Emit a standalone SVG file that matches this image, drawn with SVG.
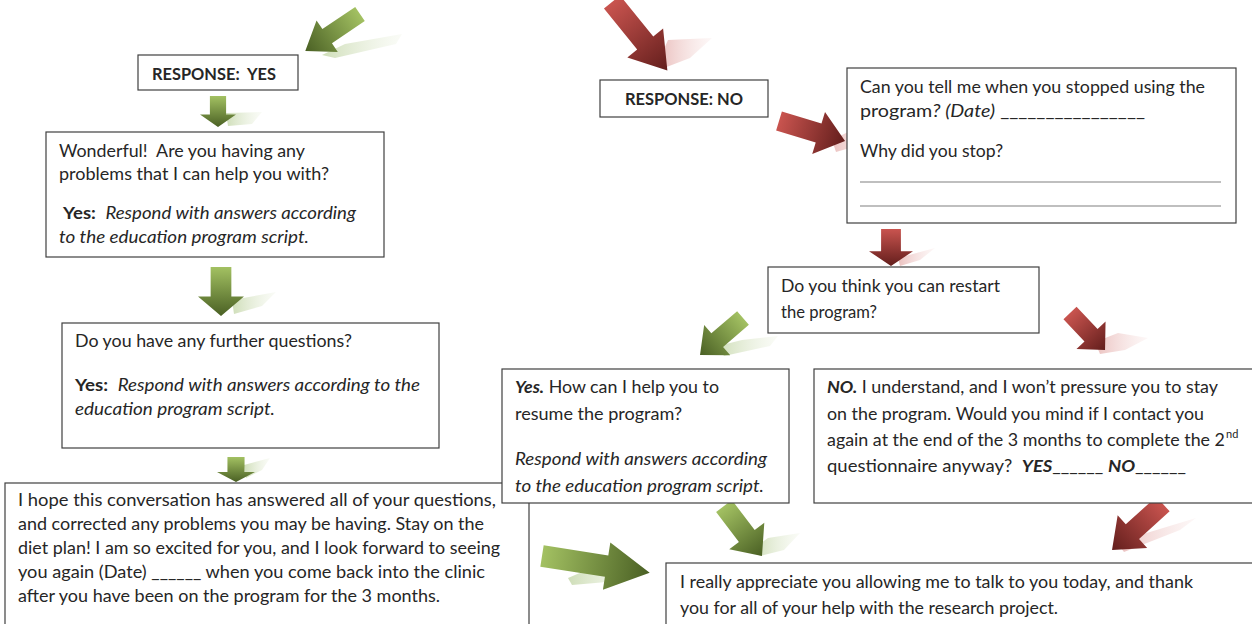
<svg xmlns="http://www.w3.org/2000/svg" width="1252" height="624" viewBox="0 0 1252 624">
<style>
.box{fill:#fff;stroke:#404040;stroke-width:1.2}
.t{font-family:Lato,"Liberation Sans",sans-serif;font-size:17.5px;fill:#262626;white-space:pre}
.b{font-weight:bold}
.i{font-style:italic}
.ln{stroke:#808080;stroke-width:1.2}
.gA{fill:url(#gGreen)}
.rA{fill:url(#gRed)}
.gS{fill:url(#gGreenS)}
.rS{fill:url(#gRedS)}
</style>
<defs>
<linearGradient id="gGreen" x1="0" y1="0" x2="1" y2="0">
<stop offset="0" stop-color="#a3c162"/><stop offset="1" stop-color="#4a6024"/>
</linearGradient>
<linearGradient id="gRed" x1="0" y1="0" x2="1" y2="0">
<stop offset="0" stop-color="#c9544f"/><stop offset="1" stop-color="#631e1c"/>
</linearGradient>
<linearGradient id="gGreenS" x1="0" y1="0" x2="1" y2="0">
<stop offset="0" stop-color="#c9dab0" stop-opacity="0.9"/><stop offset="1" stop-color="#eef3e4" stop-opacity="0.3"/>
</linearGradient>
<linearGradient id="gRedS" x1="0" y1="0" x2="1" y2="0">
<stop offset="0" stop-color="#e8b9b7" stop-opacity="0.9"/><stop offset="1" stop-color="#f8e6e5" stop-opacity="0.3"/>
</linearGradient>
<path id="arr" d="M0,-9 L60,-9 L60,-20 L100,0 L60,20 L60,9 L0,9 Z"/>
</defs>

<g id="connectors">
<polygon class="gS" points="322,55 345,44 402,34 396,44 335,58"/>
<polygon class="gS" points="226,113 262,112 252,124 228,126"/>
<polygon class="gS" points="232,300 276,292 262,306 234,314"/>
<polygon class="gS" points="244,465 270,458 262,470 246,478"/>
<polygon class="rS" points="660,58 668,40 712,38 690,58 664,68"/>
<polygon class="rS" points="832,140 848,132 880,130 860,145 836,152"/>
<polygon class="rS" points="898,258 935,248 920,260 900,266"/>
<polygon class="rS" points="1095,342 1118,333 1148,338 1125,350 1100,354"/>
<polygon class="gS" points="718,346 742,340 778,336 770,346 724,356"/>
<polygon class="gS" points="754,548 768,538 800,533 784,550 760,556"/>
<polygon class="gS" points="568,578 596,566 644,568 630,580 572,585"/>
<polygon class="rS" points="1118,544 1140,535 1196,518 1180,530 1124,552"/>
<use href="#arr" class="gA" transform="translate(360,14) rotate(146) scale(0.66,0.95)"/>
<use href="#arr" class="gA" transform="translate(218,96) rotate(90) scale(0.31,0.9)"/>
<use href="#arr" class="gA" transform="translate(221,267) rotate(90) scale(0.49,1.15)"/>
<use href="#arr" class="gA" transform="translate(236,457) rotate(90) scale(0.25,0.95)"/>
<use href="#arr" class="rA" transform="translate(612,2) rotate(51) scale(0.88,1.15)"/>
<use href="#arr" class="rA" transform="translate(779,121) rotate(16.9) scale(0.69,1.1)"/>
<use href="#arr" class="rA" transform="translate(891,229) rotate(90) scale(0.37,1.1)"/>
<use href="#arr" class="rA" transform="translate(1070,313) rotate(46.6) scale(0.51,1)"/>
<use href="#arr" class="gA" transform="translate(743,318) rotate(139.3) scale(0.567,1)"/>
<use href="#arr" class="gA" transform="translate(724,506) rotate(52.8) scale(0.628,1.1)"/>
<use href="#arr" class="gA" transform="translate(542,556) rotate(8.9) scale(1.09,1.2)"/>
<use href="#arr" class="rA" transform="translate(1163,504) rotate(137.9) scale(0.687,1.1)"/>
</g>

<g id="n-resp-yes">
<rect class="box" x="138" y="55" width="160" height="35"/>
<text class="t b" x="152" y="80" textLength="124" lengthAdjust="spacingAndGlyphs">RESPONSE:  YES</text>
</g>

<g id="n-resp-no">
<rect class="box" x="600" y="80" width="168" height="37"/>
<text class="t b" x="625" y="105" textLength="118" lengthAdjust="spacingAndGlyphs">RESPONSE: NO</text>
</g>

<g id="n-stopped">
<rect class="box" x="847" y="68" width="389" height="155"/>
<text class="t" x="860" y="93" textLength="345" lengthAdjust="spacingAndGlyphs">Can you tell me when you stopped using the</text>
<text class="t" x="860" y="117" textLength="285" lengthAdjust="spacingAndGlyphs">program<tspan class="i">? (Date)</tspan> ________________</text>
<text class="t" x="860" y="157" textLength="143" lengthAdjust="spacingAndGlyphs">Why did you stop?</text>
<line class="ln" x1="860" y1="182" x2="1221" y2="182"/>
<line class="ln" x1="860" y1="206" x2="1221" y2="206"/>
</g>

<g id="n-wonderful">
<rect class="box" x="46" y="132" width="338" height="125"/>
<text class="t" x="59" y="157" textLength="246" lengthAdjust="spacingAndGlyphs">Wonderful!  Are you having any</text>
<text class="t" x="59" y="180" textLength="270" lengthAdjust="spacingAndGlyphs">problems that I can help you with?</text>
<text class="t" x="63" y="219" textLength="293" lengthAdjust="spacingAndGlyphs"><tspan class="b">Yes:</tspan>  <tspan class="i">Respond with answers according</tspan></text>
<text class="t i" x="59" y="243" textLength="250" lengthAdjust="spacingAndGlyphs">to the education program script.</text>
</g>

<g id="n-further">
<rect class="box" x="62" y="323" width="377" height="125"/>
<text class="t" x="75" y="347" textLength="277" lengthAdjust="spacingAndGlyphs">Do you have any further questions?</text>
<text class="t" x="75" y="391" textLength="345" lengthAdjust="spacingAndGlyphs"><tspan class="b">Yes:</tspan>  <tspan class="i">Respond with answers according to the</tspan></text>
<text class="t i" x="75" y="415" textLength="200" lengthAdjust="spacingAndGlyphs">education program script.</text>
</g>

<g id="n-hope">
<rect class="box" x="5" y="483" width="524" height="160"/>
<text class="t" x="18" y="506" textLength="478" lengthAdjust="spacingAndGlyphs">I hope this conversation has answered all of your questions,</text>
<text class="t" x="18" y="530" textLength="466" lengthAdjust="spacingAndGlyphs">and corrected any problems you may be having. Stay on the</text>
<text class="t" x="18" y="554" textLength="482" lengthAdjust="spacingAndGlyphs">diet plan! I am so excited for you, and I look forward to seeing</text>
<text class="t" x="18" y="578" textLength="467" lengthAdjust="spacingAndGlyphs">you again (Date) ______ when you come back into the clinic</text>
<text class="t" x="18" y="602" textLength="422" lengthAdjust="spacingAndGlyphs">after you have been on the program for the 3 months.</text>
</g>

<g id="n-restart">
<rect class="box" x="768" y="267" width="271" height="66"/>
<text class="t" x="781" y="292" textLength="219" lengthAdjust="spacingAndGlyphs">Do you think you can restart</text>
<text class="t" x="781" y="318" textLength="96" lengthAdjust="spacingAndGlyphs">the program?</text>
</g>

<g id="n-yes-resume">
<rect class="box" x="502" y="369" width="287" height="134"/>
<text class="t" x="515" y="393" textLength="204" lengthAdjust="spacingAndGlyphs"><tspan class="b i">Yes.</tspan> How can I help you to</text>
<text class="t" x="515" y="420" textLength="167" lengthAdjust="spacingAndGlyphs">resume the program?</text>
<text class="t i" x="515" y="465" textLength="252" lengthAdjust="spacingAndGlyphs">Respond with answers according</text>
<text class="t i" x="515" y="492" textLength="249" lengthAdjust="spacingAndGlyphs">to the education program script.</text>
</g>

<g id="n-no-pressure">
<rect class="box" x="814" y="369" width="460" height="134"/>
<text class="t" x="827" y="393" textLength="391" lengthAdjust="spacingAndGlyphs"><tspan class="b i">NO.</tspan> I understand, and I won’t pressure you to stay</text>
<text class="t" x="827" y="420" textLength="377" lengthAdjust="spacingAndGlyphs">on the program. Would you mind if I contact you</text>
<text class="t" x="827" y="446" textLength="398" lengthAdjust="spacingAndGlyphs">again at the end of the 3 months to complete the 2</text>
<text class="t" x="1226" y="438" style="font-size:11px">nd</text>
<text class="t" x="827" y="472" textLength="359" lengthAdjust="spacingAndGlyphs">questionnaire anyway?  <tspan class="b i">YES</tspan>______ <tspan class="b i">NO</tspan>______</text>
</g>

<g id="n-thanks">
<rect class="box" x="666" y="563" width="610" height="80"/>
<text class="t" x="680" y="588" textLength="513" lengthAdjust="spacingAndGlyphs">I really appreciate you allowing me to talk to you today, and thank</text>
<text class="t" x="680" y="614" textLength="378" lengthAdjust="spacingAndGlyphs">you for all of your help with the research project.</text>
</g>
</svg>
